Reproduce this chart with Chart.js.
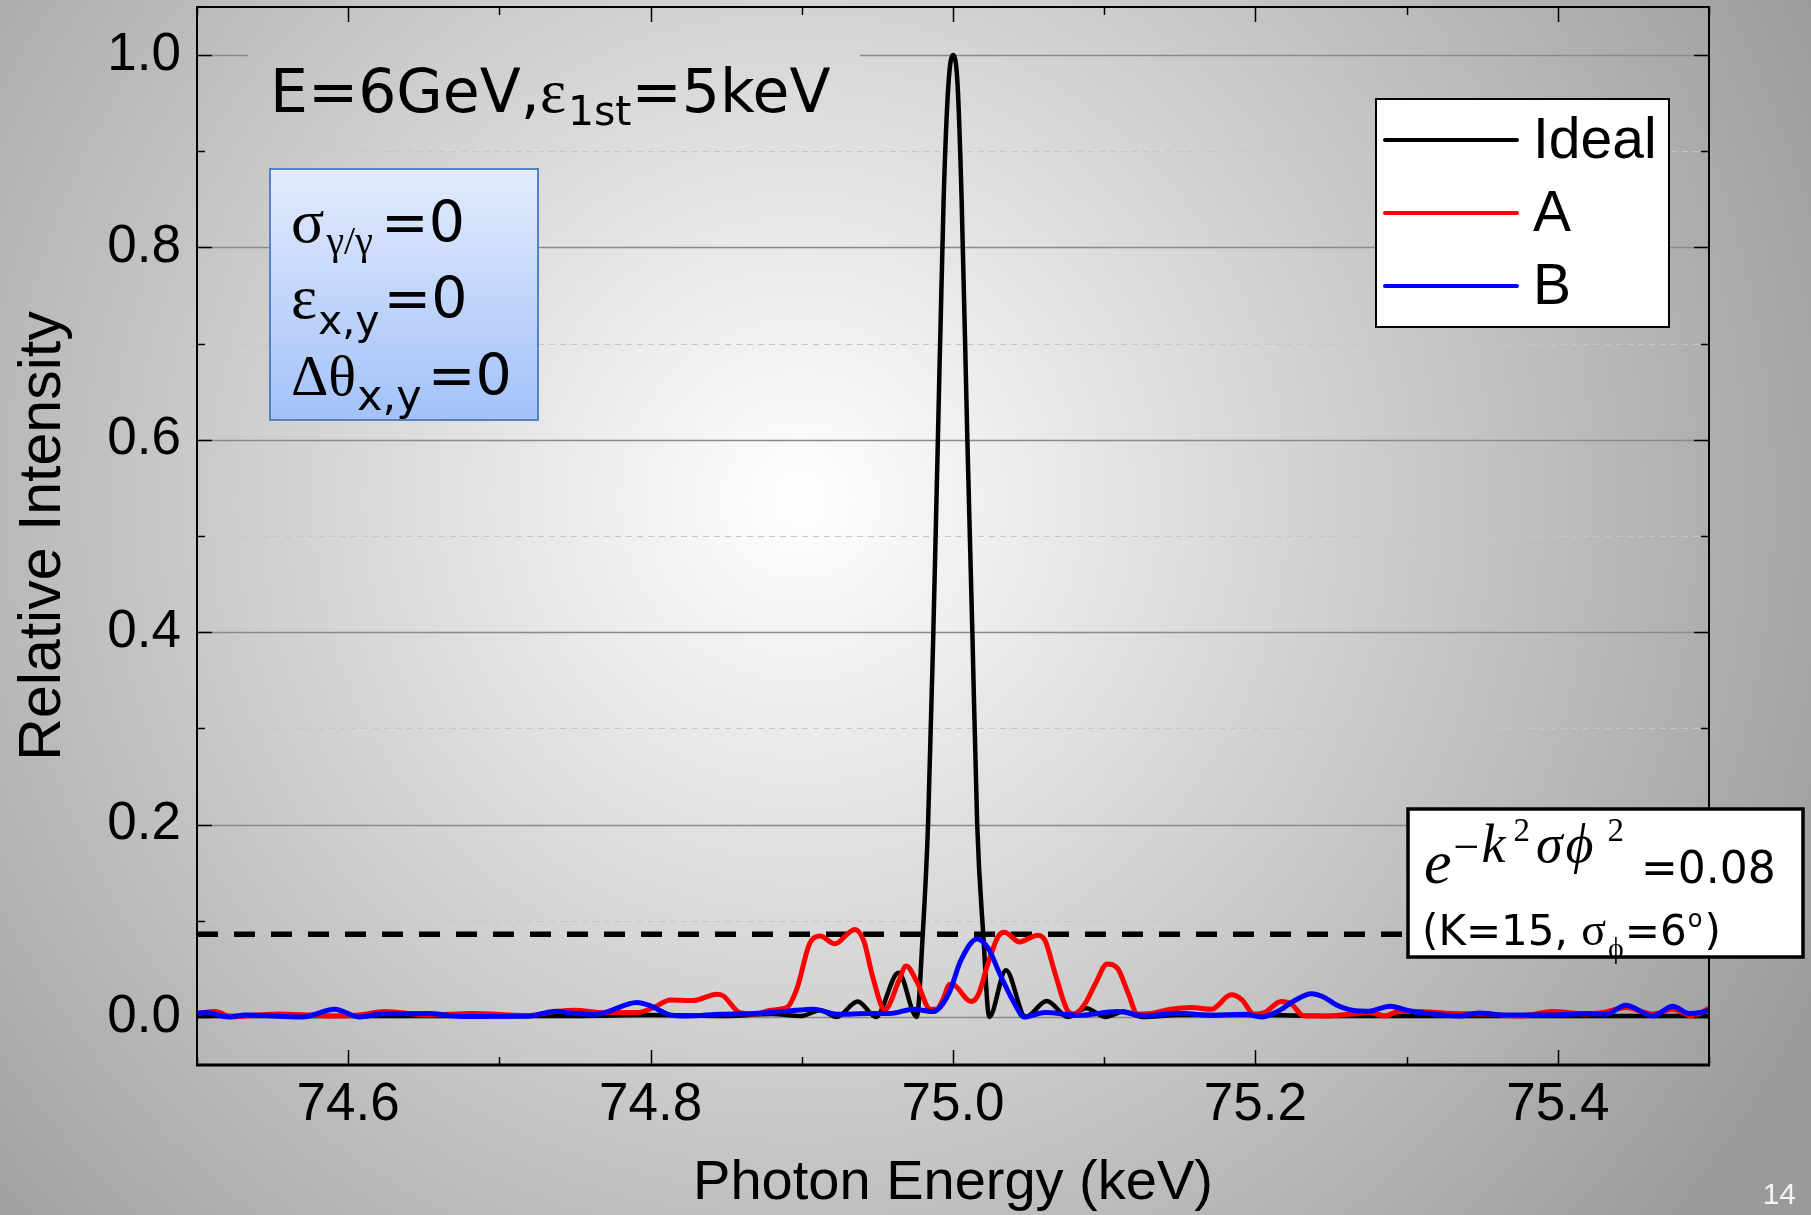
<!DOCTYPE html>
<html lang="en">
<head>
  <meta charset="UTF-8">
  <title>Relative Intensity vs Photon Energy</title>
  <script src="https://cdn.jsdelivr.net/npm/chart.js"></script>
  <style>
    body { margin: 0; background: #9a9a9a; }
    .chart-container { width: 1811px; height: 1215px; }
  </style>
</head>
<body>
  <div class="chart-container"><canvas id="spectrumChart"></canvas></div>
  <script>
    // Series (photon energy in keV, relative intensity)
    const idealEnergy = [74.50, 74.55, 74.60, 74.65, 74.70, 74.75, 74.80, 74.85, 74.88, 74.90, 74.912, 74.923, 74.937, 74.949, 74.964, 74.976,
      74.980, 74.9835, 74.987, 74.990, 74.9938, 74.997, 75.000, 75.003, 75.0057, 75.0095, 75.0128, 75.016, 75.020, 75.024,
      75.035, 75.048, 75.062, 75.076, 75.088, 75.101, 75.113, 75.125, 75.15, 75.20, 75.25, 75.30, 75.35, 75.40, 75.45, 75.50];
    const idealIntensity = [0.001, 0.001, 0.001, 0.001, 0.001, 0.001, 0.002, 0.001, 0.003, 0.001, 0.007, 0.0, 0.016, 0.0, 0.046, 0.0,
      0.086, 0.20, 0.40, 0.60, 0.85, 0.97, 1.0, 0.97, 0.85, 0.60, 0.40, 0.20, 0.086, 0.0,
      0.0485, 0.0, 0.0166, 0.0, 0.009, 0.0, 0.0055, 0.0, 0.002, 0.002, 0.001, 0.001, 0.001, 0.001, 0.001, 0.001];

    const aEnergy = [74.499, 74.512, 74.523, 74.540, 74.554, 74.575, 74.591, 74.607, 74.624, 74.653, 74.682, 74.719, 74.737, 74.750,
      74.769, 74.791, 74.802, 74.813, 74.828, 74.844, 74.848, 74.859, 74.870, 74.879, 74.890, 74.897, 74.905, 74.912, 74.922,
      74.930, 74.935, 74.941, 74.947, 74.955, 74.958, 74.964, 74.969, 74.976, 74.985, 74.989, 74.993, 74.998, 75.001, 75.012,
      75.017, 75.023, 75.030, 75.034, 75.044, 75.056, 75.061, 75.067, 75.076, 75.080, 75.087, 75.094, 75.102, 75.109, 75.116,
      75.122, 75.131, 75.144, 75.158, 75.171, 75.184, 75.191, 75.199, 75.206, 75.217, 75.224, 75.232, 75.246, 75.264, 75.275,
      75.286, 75.295, 75.309, 75.331, 75.353, 75.375, 75.397, 75.419, 75.430, 75.445, 75.463, 75.476, 75.489, 75.500];
    const aIntensity = [0.0035, 0.0055, 0.0, 0.002, 0.003, 0.002, 0.001, 0.002, 0.0055, 0.002, 0.0035, 0.0015, 0.0055, 0.007,
      0.0045, 0.0045, 0.0097, 0.0177, 0.017, 0.0236, 0.022, 0.0045, 0.003, 0.007, 0.0097, 0.0305, 0.0756, 0.084, 0.076,
      0.086, 0.091, 0.079, 0.041, 0.007, 0.013, 0.037, 0.053, 0.037, 0.008, 0.008, 0.017, 0.034, 0.033, 0.016,
      0.024, 0.055, 0.084, 0.088, 0.078, 0.085, 0.079, 0.048, 0.006, 0.003, 0.013, 0.034, 0.055, 0.050, 0.024,
      0.003, 0.0035, 0.008, 0.0097, 0.008, 0.023, 0.018, 0.003, 0.0045, 0.016, 0.013, 0.001, 0.001, 0.003, 0.0045,
      0.001, 0.006, 0.0055, 0.0035, 0.003, 0.001, 0.0055, 0.003, 0.0045, 0.0097, 0.003, 0.008, 0.001, 0.009];

    const bEnergy = [74.499, 74.506, 74.521, 74.532, 74.570, 74.591, 74.607, 74.622, 74.653, 74.675, 74.719, 74.737, 74.750, 74.764,
      74.791, 74.800, 74.813, 74.824, 74.846, 74.868, 74.890, 74.908, 74.923, 74.945, 74.958, 74.974, 74.987, 74.993, 74.998,
      75.005, 75.016, 75.023, 75.032, 75.041, 75.047, 75.061, 75.083, 75.109, 75.127, 75.149, 75.171, 75.193, 75.204, 75.215,
      75.226, 75.237, 75.246, 75.253, 75.264, 75.275, 75.289, 75.300, 75.309, 75.335, 75.348, 75.364, 75.397, 75.419, 75.432,
      75.445, 75.463, 75.476, 75.487, 75.494, 75.500];
    const bIntensity = [0.0035, 0.0045, 0.0, 0.002, 0.0, 0.008, 0.0, 0.003, 0.0035, 0.0005, 0.0007, 0.006, 0.0035, 0.0028,
      0.015, 0.0114, 0.002, 0.001, 0.0028, 0.0035, 0.006, 0.008, 0.0028, 0.0035, 0.0035, 0.008, 0.0055, 0.013, 0.027,
      0.058, 0.081, 0.072, 0.041, 0.013, 0.0, 0.0045, 0.0017, 0.0055, 0.001, 0.0038, 0.0017, 0.0028, 0.0, 0.006,
      0.017, 0.024, 0.020, 0.013, 0.007, 0.006, 0.011, 0.007, 0.0045, 0.001, 0.004, 0.002, 0.002, 0.0035, 0.0028,
      0.012, 0.001, 0.011, 0.0035, 0.0045, 0.007];

    // e^{-k^2 sigma^2} level, dashed
    const thresholdEnergy = [74.5, 75.5];
    const thresholdIntensity = [0.086, 0.086];

    const seriesLabels = ['Ideal', 'A', 'B'];
    const seriesColors = ['#000000', '#ff0000', '#0000ff'];
    const xTickValues = [74.5, 74.6, 74.7, 74.8, 74.9, 75.0, 75.1, 75.2, 75.3, 75.4, 75.5];
    const yTickValues = [0.0, 0.1, 0.2, 0.3, 0.4, 0.5, 0.6, 0.7, 0.8, 0.9, 1.0];
    const xTickLabels = ['74.6', '74.8', '75.0', '75.2', '75.4'];
    const yTickLabels = ['0.0', '0.2', '0.4', '0.6', '0.8', '1.0'];

    const SANS = '"Liberation Sans", Arial, sans-serif';
    const VSANS = '"DejaVu Sans", Verdana, sans-serif';
    const SERIF = '"Liberation Serif", "Times New Roman", serif';

    const toPoints = (xs, ys) => xs.map((x, i) => ({ x: x, y: ys[i] }));

    function bgGradient(ctx) {
      const g = ctx.createRadialGradient(800, 500, 0, 800, 500, 1150);
      g.addColorStop(0, '#ffffff');
      g.addColorStop(1, '#9a9a9a');
      return g;
    }

    // draw a row of text pieces with their own fonts / offsets
    function drawRuns(ctx, x, y, runs) {
      runs.forEach(r => {
        ctx.font = r.font;
        if (r.x !== undefined) x = r.x;
        ctx.fillText(r.t, x, y + (r.dy || 0));
        x += ctx.measureText(r.t).width + (r.gap || 0);
      });
    }

    const decorPlugin = {
      id: 'decor',
      beforeDraw(chart) {
        const ctx = chart.ctx;
        ctx.save();
        ctx.fillStyle = bgGradient(ctx);
        ctx.fillRect(0, 0, chart.width, chart.height);
        ctx.restore();
      },
      beforeDatasetsDraw(chart) {
        const ctx = chart.ctx, a = chart.chartArea, y = chart.scales.y;
        ctx.save();
        y.ticks.forEach(t => {
          const py = Math.round(y.getPixelForValue(t.value)) + 0.5;
          const major = yTickLabels.includes(t.value.toFixed(1));
          ctx.beginPath();
          ctx.setLineDash(major ? [] : [6, 5]);
          ctx.strokeStyle = major ? '#8a8a8a' : '#c6c6c6';
          ctx.lineWidth = major ? 1.5 : 1;
          ctx.moveTo(a.left, py);
          ctx.lineTo(a.right, py);
          ctx.stroke();
        });
        ctx.setLineDash([]);
        // patch behind the heading hides the grid line
        ctx.fillStyle = bgGradient(ctx);
        ctx.fillRect(248, 36, 612, 84);
        ctx.restore();
      },
      afterDraw(chart) {
        const ctx = chart.ctx, a = chart.chartArea;
        const xs = chart.scales.x, ys = chart.scales.y;
        ctx.save();

        // frame
        ctx.strokeStyle = '#000';
        ctx.lineWidth = 2;
        ctx.strokeRect(a.left, a.top, a.right - a.left, a.bottom - a.top);
        ctx.lineWidth = 3;
        ctx.beginPath();
        ctx.moveTo(a.left - 1, a.bottom);
        ctx.lineTo(a.right + 1, a.bottom);
        ctx.stroke();

        // inward ticks on all four sides
        ctx.lineWidth = 1.5;
        xs.ticks.forEach(t => {
          const px = Math.round(xs.getPixelForValue(t.value)) + 0.5;
          const len = xTickLabels.includes(t.value.toFixed(1)) ? 15 : 8;
          ctx.beginPath();
          ctx.moveTo(px, a.bottom); ctx.lineTo(px, a.bottom - len);
          ctx.moveTo(px, a.top); ctx.lineTo(px, a.top + len);
          ctx.stroke();
        });
        ys.ticks.forEach(t => {
          const py = Math.round(ys.getPixelForValue(t.value)) + 0.5;
          const len = yTickLabels.includes(t.value.toFixed(1)) ? 15 : 8;
          ctx.beginPath();
          ctx.moveTo(a.left, py); ctx.lineTo(a.left + len, py);
          ctx.moveTo(a.right, py); ctx.lineTo(a.right - len, py);
          ctx.stroke();
        });

        ctx.fillStyle = '#000';
        ctx.textBaseline = 'alphabetic';
        ctx.textAlign = 'left';

        // heading
        drawRuns(ctx, 270, 112, [
          { t: 'E=6GeV,', font: '60px ' + VSANS },
          { t: 'ε', font: '62px ' + SERIF, gap: 2 },
          { t: '1st', font: '41px ' + VSANS, dy: 13 },
          { t: '=5keV', font: '60px ' + VSANS }
        ]);

        // parameter box
        const bx = 270, by = 169, bw = 268, bh = 251;
        const g = ctx.createLinearGradient(0, by, 0, by + bh);
        g.addColorStop(0, '#e2ebfd');
        g.addColorStop(1, '#a3c1f9');
        ctx.fillStyle = g;
        ctx.fillRect(bx, by, bw, bh);
        ctx.strokeStyle = '#5582c2';
        ctx.lineWidth = 2;
        ctx.strokeRect(bx, by, bw, bh);
        ctx.fillStyle = '#000';
        drawRuns(ctx, 291, 242, [
          { t: 'σ', font: '62px ' + SERIF, gap: 2 },
          { t: 'γ/γ', font: '40px ' + SERIF, dy: 12, gap: 8 },
          { t: '=0', font: '57px ' + VSANS }
        ]);
        drawRuns(ctx, 291, 318, [
          { t: 'ε', font: '62px ' + SERIF, gap: 1 },
          { t: 'x,y', font: '41px ' + VSANS, dy: 16, gap: 4 },
          { t: '=0', font: '57px ' + VSANS }
        ]);
        drawRuns(ctx, 291, 395, [
          { t: 'Δθ', font: '58px ' + SERIF, gap: 1 },
          { t: 'x,y', font: '43px ' + VSANS, dy: 15, gap: 6 },
          { t: '=0', font: '57px ' + VSANS }
        ]);

        // legend
        const lx = 1376, ly = 99, lw = 293, lh = 228;
        ctx.fillStyle = '#fff';
        ctx.fillRect(lx, ly, lw, lh);
        ctx.strokeStyle = '#000';
        ctx.lineWidth = 2;
        ctx.strokeRect(lx, ly, lw, lh);
        ctx.textBaseline = 'middle';
        ctx.font = '57px ' + SANS;
        chart.data.datasets.forEach((ds, i) => {
          if (!ds.label) return;
          const rowY = 140 + i * 73;
          ctx.strokeStyle = ds.borderColor;
          ctx.lineWidth = 4;
          ctx.lineCap = 'round';
          ctx.beginPath();
          ctx.moveTo(1385, rowY);
          ctx.lineTo(1517, rowY);
          ctx.stroke();
          ctx.fillStyle = '#000';
          ctx.fillText(ds.label, 1533, rowY + 2);
        });
        ctx.lineCap = 'butt';
        ctx.textBaseline = 'alphabetic';

        // annotation for the dashed level
        const ax = 1408, ay = 809, aw = 395, ah = 148;
        ctx.fillStyle = '#fff';
        ctx.fillRect(ax, ay, aw, ah);
        ctx.strokeStyle = '#000';
        ctx.lineWidth = 3.5;
        ctx.strokeRect(ax, ay, aw, ah);
        ctx.fillStyle = '#000';
        drawRuns(ctx, 1424, 883, [
          { t: 'e', font: 'italic 62px ' + SERIF, gap: 2 },
          { t: '−', font: '46px ' + SERIF, dy: -21, gap: 2 },
          { t: 'k', font: 'italic 54px ' + SERIF, dy: -21, gap: 8 },
          { t: '2', font: '33px ' + SERIF, dy: -42, gap: 6 },
          { t: 'σ', font: 'italic 54px ' + SERIF, dy: -21, gap: 3 },
          { t: 'ϕ', font: 'italic 54px ' + SERIF, dy: -21, gap: 14 },
          { t: '2', font: '33px ' + SERIF, dy: -42 },
          { t: '=0.08', font: '44px ' + VSANS, x: 1641 }
        ]);
        drawRuns(ctx, 1422, 945, [
          { t: '(K=15, ', font: '42px ' + VSANS },
          { t: 'σ', font: '46px ' + SERIF, gap: 2 },
          { t: 'ϕ', font: '30px ' + SERIF, dy: 13, gap: 1 },
          { t: '=6', font: '42px ' + VSANS, gap: 1 },
          { t: 'o', font: '24px ' + VSANS, dy: -18, gap: 2 },
          { t: ')', font: '42px ' + VSANS }
        ]);

        // slide number
        ctx.fillStyle = '#f4f4f4';
        ctx.font = '30px ' + SANS;
        ctx.textAlign = 'right';
        ctx.fillText('14', 1796, 1204);
        ctx.restore();
      }
    };

    const lineDefaults = {
      pointRadius: 0,
      fill: false,
      cubicInterpolationMode: 'monotone'
    };

    const config = {
      type: 'line',
      data: {
        datasets: [
          Object.assign({ label: seriesLabels[0], data: toPoints(idealEnergy, idealIntensity), borderColor: seriesColors[0], borderWidth: 4.5, order: 2 }, lineDefaults),
          Object.assign({ label: seriesLabels[1], data: toPoints(aEnergy, aIntensity), borderColor: seriesColors[1], borderWidth: 5, order: 1 }, lineDefaults),
          Object.assign({ label: seriesLabels[2], data: toPoints(bEnergy, bIntensity), borderColor: seriesColors[2], borderWidth: 5, order: 0 }, lineDefaults),
          { label: '', data: toPoints(thresholdEnergy, thresholdIntensity), borderColor: '#000', borderWidth: 5.5, borderDash: [21, 16], pointRadius: 0, order: 3 }
        ]
      },
      options: {
        responsive: true,
        maintainAspectRatio: false,
        animation: false,
        layout: { padding: { left: 0, top: 7, right: 102, bottom: 0 } },
        plugins: { legend: { display: false }, tooltip: { enabled: false } },
        scales: {
          x: {
            type: 'linear',
            min: 74.5,
            max: 75.5,
            afterBuildTicks: s => { s.ticks = xTickValues.map(v => ({ value: v })); },
            afterFit: s => { s.height = 150; s.paddingLeft = 0; s.paddingRight = 0; },
            grid: { display: false, drawTicks: false },
            border: { display: false },
            ticks: {
              autoSkip: false,
              maxRotation: 0,
              padding: 9,
              color: '#000',
              font: { family: SANS, size: 53 },
              callback: v => { const s = Number(v).toFixed(1); return xTickLabels.includes(s) ? s : ''; }
            },
            title: {
              display: true,
              text: 'Photon Energy (keV)',
              color: '#000',
              font: { family: SANS, size: 56, lineHeight: 1 },
              padding: { top: 0, bottom: 3 }
            }
          },
          y: {
            type: 'linear',
            min: -0.05,
            max: 1.05,
            afterBuildTicks: s => { s.ticks = yTickValues.map(v => ({ value: v })); },
            afterFit: s => { s.width = 197; s.paddingTop = 0; s.paddingBottom = 0; },
            grid: { display: false, drawTicks: false },
            border: { display: false },
            ticks: {
              autoSkip: false,
              padding: 16,
              color: '#000',
              font: { family: SANS, size: 53 },
              callback: v => { const s = Number(v).toFixed(1); return yTickLabels.includes(s) ? s : ''; }
            },
            title: {
              display: true,
              text: 'Relative Intensity',
              color: '#000',
              font: { family: SANS, size: 59, lineHeight: 1 },
              padding: { top: 14, bottom: 0 }
            }
          }
        }
      },
      plugins: [decorPlugin]
    };

    new Chart(document.getElementById('spectrumChart'), config);
  </script>
</body>
</html>
